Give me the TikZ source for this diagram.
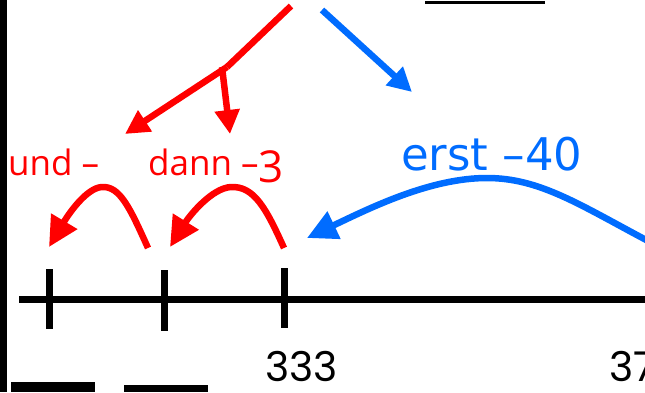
\documentclass[tikz,border=0pt]{standalone}
\usepackage{fontspec}
\usetikzlibrary{arrows.meta}
\newfontfamily\redfont{Open Sans}
\newfontfamily\bluefont{DejaVu Sans}
\newfontfamily\numfont{Poppins}
\definecolor{myred}{RGB}{255,0,0}
\definecolor{myblue}{RGB}{0,108,255}
\begin{document}
\begin{tikzpicture}[x=1pt,y=-1pt,
  redline/.style={draw=myred,line width=6.5pt},
  blueline/.style={draw=myblue,line width=6.5pt},
  blackline/.style={draw=black,line width=7pt},
  smalltip/.style={-{Triangle[length=24pt,width=24pt]}},
  bigtip/.style={-{Triangle[length=30pt,width=29pt]}},
  redtext/.style={text=myred,inner sep=0pt,anchor=base west,font=\redfont\fontsize{35}{35}\selectfont},
  bluetext/.style={text=myblue,inner sep=0pt,anchor=base west,font=\bluefont\fontsize{45}{45}\selectfont},
  numtext/.style={text=black,inner sep=0pt,anchor=base west,font=\numfont\fontsize{41}{41}\selectfont}]
\useasboundingbox (0,0) rectangle (645,392);
\clip (0,0) rectangle (645,392);

% frame fragments
\fill[black] (0,0) rectangle (7,392);
\fill[black] (425,1) rectangle (545,4);
\fill[black] (11,382) rectangle (95,392);
\fill[black] (124,385) rectangle (208,392);

% number line
\coordinate (nl0) at (19,299);
\coordinate (nl1) at (650,299);
\draw[blackline] (nl0) -- (nl1);
\coordinate (t1a) at (49,269); \coordinate (t1b) at (49,329);
\coordinate (t2a) at (164,270); \coordinate (t2b) at (164,331);
\coordinate (t3a) at (284,268); \coordinate (t3b) at (284,328);
\draw[blackline] (t1a) -- (t1b);
\draw[blackline] (t2a) -- (t2b);
\draw[blackline] (t3a) -- (t3b);

\node[numtext] (n333) at (265,381) {333};
\node[numtext] (n37) at (609,381) {37};

% labels
\node[redtext] (und) at (8,175) {und –};
\node[redtext] (dann) at (148,175) {dann –\raisebox{-7pt}{\fontsize{44}{44}\selectfont 3}};
\node[bluetext] (erst) at (401,170) {erst –40};

% top red arrows
\coordinate (rtop) at (291,6);
\coordinate (rjoin) at (227,67);
\coordinate (rt1) at (125,134);
\coordinate (rj2) at (222,67);
\coordinate (rt2) at (230,134);
\draw[redline] (rtop) -- (rjoin);
\draw[redline,smalltip] (rjoin) -- (rt1);
\draw[redline,smalltip] (rj2) -- (rt2);

% top blue arrow
\coordinate (btop) at (322,10);
\coordinate (bt) at (412,92);
\draw[blueline,smalltip] (btop) -- (bt);

% red jumps
\coordinate (j1s) at (148,248);
\coordinate (j1p) at (102,187);
\coordinate (j1e) at (49,247);
\draw[redline,bigtip] (j1s) .. controls (130,208) and (120,186) .. (j1p)
  .. controls (86,188) and (68,215) .. (j1e);
\coordinate (j2s) at (284,248);
\coordinate (j2p) at (231,187);
\coordinate (j2e) at (170,247);
\draw[redline,bigtip] (j2s) .. controls (266,208) and (254,186) .. (j2p)
  .. controls (212,188) and (190,215) .. (j2e);

% blue jump
\coordinate (bjs) at (650,242);
\coordinate (bjp) at (487,178);
\coordinate (bje) at (307,238);
\draw[blueline,bigtip] (bjs) .. controls (580,205) and (540,178) .. (bjp)
  .. controls (430,178) and (370,208) .. (bje);
\end{tikzpicture}
\end{document}
